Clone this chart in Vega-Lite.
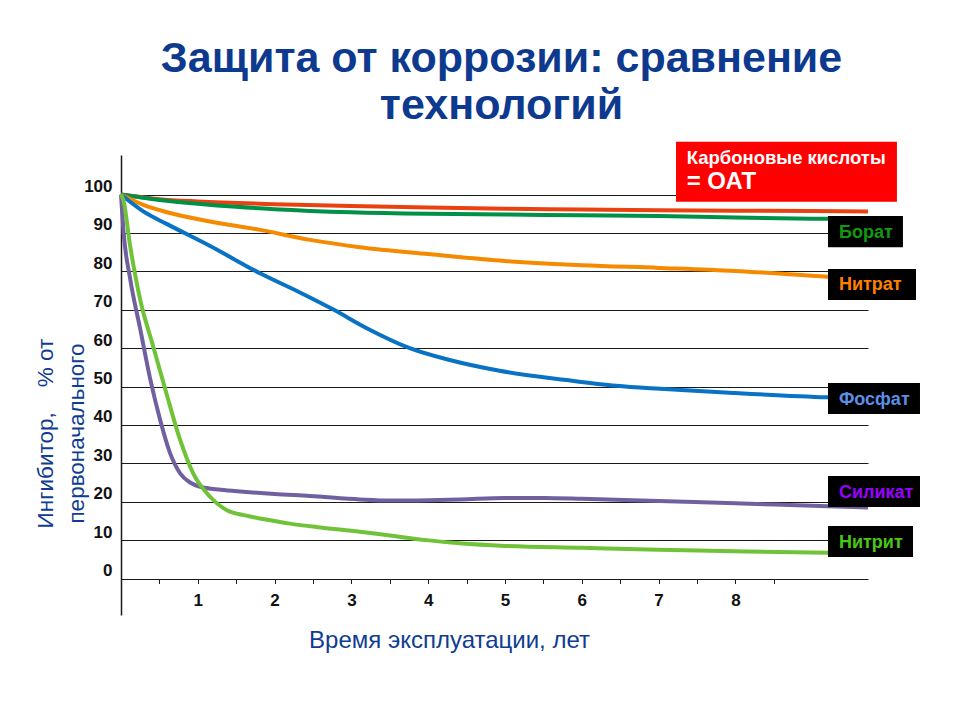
{
  "$schema": "https://vega.github.io/schema/vega-lite/v6.json",
  "autosize": {"type": "none"},
  "padding": {"left": 121, "top": 155, "right": 92, "bottom": 105},
  "width": 747,
  "height": 460,
  "background": "white",
  "config": {
    "view": {"stroke": null},
    "font": "Liberation Sans"
  },
  "title": {
    "text": ["Защита от коррозии: сравнение", "технологий"],
    "font": "Liberation Sans",
    "fontSize": 43,
    "fontWeight": "bold",
    "color": "#0d3a8e",
    "anchor": "middle",
    "frame": "group",
    "lineHeight": 47,
    "dx": 7,
    "offset": 14
  },
  "datasets": {
    "curves": [
      {"s": "Карбоновые кислоты", "t": 0, "v": 100},
      {"s": "Карбоновые кислоты", "t": 0.5, "v": 98.8},
      {"s": "Карбоновые кислоты", "t": 1, "v": 98.2},
      {"s": "Карбоновые кислоты", "t": 2, "v": 97.5},
      {"s": "Карбоновые кислоты", "t": 3, "v": 97.0},
      {"s": "Карбоновые кислоты", "t": 4, "v": 96.6},
      {"s": "Карбоновые кислоты", "t": 5, "v": 96.3},
      {"s": "Карбоновые кислоты", "t": 6, "v": 96.1},
      {"s": "Карбоновые кислоты", "t": 7, "v": 95.9},
      {"s": "Карбоновые кислоты", "t": 8, "v": 95.8},
      {"s": "Карбоновые кислоты", "t": 9, "v": 95.7},
      {"s": "Карбоновые кислоты", "t": 9.727, "v": 95.6},

      {"s": "Борат", "t": 0, "v": 100},
      {"s": "Борат", "t": 0.5, "v": 98.6},
      {"s": "Борат", "t": 1, "v": 97.6},
      {"s": "Борат", "t": 1.5, "v": 96.8},
      {"s": "Борат", "t": 2, "v": 96.2},
      {"s": "Борат", "t": 3, "v": 95.4},
      {"s": "Борат", "t": 4, "v": 95.0},
      {"s": "Борат", "t": 5, "v": 94.8},
      {"s": "Борат", "t": 6, "v": 94.6},
      {"s": "Борат", "t": 7, "v": 94.4},
      {"s": "Борат", "t": 8, "v": 94.0},
      {"s": "Борат", "t": 9, "v": 93.7},
      {"s": "Борат", "t": 9.727, "v": 93.6},

      {"s": "Нитрат", "t": 0, "v": 100},
      {"s": "Нитрат", "t": 0.29, "v": 97.3},
      {"s": "Нитрат", "t": 0.6, "v": 95.4},
      {"s": "Нитрат", "t": 1.16, "v": 93.0},
      {"s": "Нитрат", "t": 1.81, "v": 90.8},
      {"s": "Нитрат", "t": 2.46, "v": 88.2},
      {"s": "Нитрат", "t": 3.11, "v": 86.3},
      {"s": "Нитрат", "t": 4, "v": 84.5},
      {"s": "Нитрат", "t": 5, "v": 82.7},
      {"s": "Нитрат", "t": 6, "v": 81.6},
      {"s": "Нитрат", "t": 7, "v": 80.9},
      {"s": "Нитрат", "t": 8, "v": 80.1},
      {"s": "Нитрат", "t": 9.2, "v": 78.6},
      {"s": "Нитрат", "t": 9.727, "v": 78.0},

      {"s": "Фосфат", "t": 0, "v": 100},
      {"s": "Фосфат", "t": 0.29, "v": 95.6},
      {"s": "Фосфат", "t": 0.6, "v": 92.3},
      {"s": "Фосфат", "t": 1.16, "v": 86.6},
      {"s": "Фосфат", "t": 1.81, "v": 79.5},
      {"s": "Фосфат", "t": 2.33, "v": 74.5},
      {"s": "Фосфат", "t": 2.76, "v": 70.1},
      {"s": "Фосфат", "t": 3.2, "v": 65.2},
      {"s": "Фосфат", "t": 3.76, "v": 60.0},
      {"s": "Фосфат", "t": 4.28, "v": 56.9},
      {"s": "Фосфат", "t": 4.93, "v": 54.1},
      {"s": "Фосфат", "t": 5.8, "v": 51.7},
      {"s": "Фосфат", "t": 6.45, "v": 50.2},
      {"s": "Фосфат", "t": 7.02, "v": 49.4},
      {"s": "Фосфат", "t": 8, "v": 48.3},
      {"s": "Фосфат", "t": 9.2, "v": 47.2},
      {"s": "Фосфат", "t": 9.727, "v": 46.9},

      {"s": "Силикат", "t": 0, "v": 100},
      {"s": "Силикат", "t": 0.03, "v": 91},
      {"s": "Силикат", "t": 0.12, "v": 78},
      {"s": "Силикат", "t": 0.25, "v": 65},
      {"s": "Силикат", "t": 0.38, "v": 52},
      {"s": "Силикат", "t": 0.51, "v": 41.3},
      {"s": "Силикат", "t": 0.64, "v": 32.6},
      {"s": "Силикат", "t": 0.77, "v": 27.4},
      {"s": "Силикат", "t": 0.9, "v": 25.0},
      {"s": "Силикат", "t": 1.03, "v": 23.9},
      {"s": "Силикат", "t": 1.3, "v": 23.1},
      {"s": "Силикат", "t": 1.59, "v": 22.6},
      {"s": "Силикат", "t": 2, "v": 22.0},
      {"s": "Силикат", "t": 2.46, "v": 21.5},
      {"s": "Силикат", "t": 3.11, "v": 20.6},
      {"s": "Силикат", "t": 3.5, "v": 20.3},
      {"s": "Силикат", "t": 4, "v": 20.4},
      {"s": "Силикат", "t": 4.42, "v": 20.6},
      {"s": "Силикат", "t": 5, "v": 21.0},
      {"s": "Силикат", "t": 5.5, "v": 21.0},
      {"s": "Силикат", "t": 6, "v": 20.8},
      {"s": "Силикат", "t": 7, "v": 20.2},
      {"s": "Силикат", "t": 8, "v": 19.6},
      {"s": "Силикат", "t": 9.2, "v": 18.8},
      {"s": "Силикат", "t": 9.727, "v": 18.5},

      {"s": "Нитрит", "t": 0, "v": 100},
      {"s": "Нитрит", "t": 0.03, "v": 98.6},
      {"s": "Нитрит", "t": 0.12, "v": 86.5},
      {"s": "Нитрит", "t": 0.25, "v": 72.6},
      {"s": "Нитрит", "t": 0.42, "v": 60.4},
      {"s": "Нитрит", "t": 0.59, "v": 48.3},
      {"s": "Нитрит", "t": 0.77, "v": 36.1},
      {"s": "Нитрит", "t": 0.94, "v": 27.4},
      {"s": "Нитрит", "t": 1.16, "v": 21.3},
      {"s": "Нитрит", "t": 1.38, "v": 17.8},
      {"s": "Нитрит", "t": 1.6, "v": 16.5},
      {"s": "Нитрит", "t": 1.85, "v": 15.5},
      {"s": "Нитрит", "t": 2.2, "v": 14.3},
      {"s": "Нитрит", "t": 2.6, "v": 13.3},
      {"s": "Нитрит", "t": 3.11, "v": 12.2},
      {"s": "Нитрит", "t": 3.5, "v": 11.2},
      {"s": "Нитрит", "t": 3.98, "v": 10.0},
      {"s": "Нитрит", "t": 4.41, "v": 9.2},
      {"s": "Нитрит", "t": 5, "v": 8.5},
      {"s": "Нитрит", "t": 6, "v": 8.0},
      {"s": "Нитрит", "t": 7, "v": 7.5},
      {"s": "Нитрит", "t": 8, "v": 7.1},
      {"s": "Нитрит", "t": 9.2, "v": 6.7},
      {"s": "Нитрит", "t": 9.727, "v": 6.6}
    ],
    "labels": [
      {"s": "Борат", "label": "Борат", "x1": 9.206, "x2": 10.182, "y1": 94.41, "y2": 86.26, "ty": 89.9},
      {"s": "Нитрат", "label": "Нитрат", "x1": 9.206, "x2": 10.352, "y1": 80.61, "y2": 72.53, "ty": 76.4},
      {"s": "Фосфат", "label": "Фосфат", "x1": 9.206, "x2": 10.404, "y1": 50.92, "y2": 42.84, "ty": 46.5},
      {"s": "Силикат", "label": "Силикат", "x1": 9.206, "x2": 10.404, "y1": 26.7, "y2": 18.62, "ty": 22.35},
      {"s": "Нитрит", "label": "Нитрит", "x1": 9.206, "x2": 10.313, "y1": 13.67, "y2": 5.6, "ty": 9.17}
    ],
    "oat": [
      {"x1": 7.227, "x2": 10.104, "y1": 113.76, "y2": 98.13, "tx": 7.366, "line1": "Карбоновые кислоты", "ty1": 109.4, "line2": "= ОАТ", "ty2": 103.2}
    ]
  },
  "layer": [
    {
      "data": {"name": "curves"},
      "mark": {"type": "line", "interpolate": "monotone", "strokeWidth": 4, "clip": false},
      "encoding": {
        "x": {
          "field": "t", "type": "quantitative",
          "scale": {"domain": [0, 9.727], "nice": false, "zero": false},
          "axis": {
            "title": "Время эксплуатации, лет",
            "titleFont": "Liberation Sans",
            "titleFontSize": 24,
            "titleFontWeight": "normal",
            "titleColor": "#0f3d91",
            "titleX": 328,
            "titleY": 62,
            "titleAlign": "center",
            "titleBaseline": "middle",
            "offset": -36.5,
            "domain": false,
            "grid": false,
            "values": [0.5, 1, 1.5, 2, 2.5, 3, 3.5, 4, 4.5, 5, 5.5, 6, 6.5, 7, 7.5, 8, 8.5],
            "labelExpr": "datum.value % 1 === 0 ? format(datum.value, 'd') : ''",
            "ticks": true,
            "tickSize": 5,
            "tickColor": "#1a1a1a",
            "tickWidth": 1,
            "labelFont": "Liberation Sans",
            "labelFontSize": 17,
            "labelFontWeight": "bold",
            "labelColor": "#111111",
            "labelPadding": 9,
            "labelOverlap": false,
            "labelFlush": false
          }
        },
        "y": {
          "field": "v", "type": "quantitative",
          "scale": {"domain": [-9.5, 110.3], "nice": false, "zero": false},
          "axis": {
            "title": ["Ингибитор,\u00a0\u00a0\u00a0\u00a0% от", "первоначального"],
            "titleFont": "Liberation Sans",
            "titleFontSize": 22.5,
            "titleFontWeight": "normal",
            "titleColor": "#0f3d91",
            "titleLineHeight": 31,
            "titleAngle": 270,
            "titleX": -76,
            "titleY": 278,
            "titleAlign": "center",
            "titleBaseline": "middle",
            "values": [0, 10, 20, 30, 40, 50, 60, 70, 80, 90, 100],
            "grid": true,
            "gridColor": "#1a1a1a",
            "gridWidth": 1,
            "gridOpacity": 1,
            "domain": true,
            "domainColor": "#1a1a1a",
            "domainWidth": 1.5,
            "ticks": false,
            "tickSize": 0,
            "labelFont": "Liberation Sans",
            "labelFontSize": 17,
            "labelFontWeight": "bold",
            "labelColor": "#111111",
            "labelPadding": 9,
            "labelOffset": -8,
            "labelOverlap": false,
            "labelFlush": false
          }
        },
        "stroke": {
          "field": "s", "type": "nominal",
          "scale": {
            "domain": ["Карбоновые кислоты", "Борат", "Нитрат", "Фосфат", "Силикат", "Нитрит"],
            "range": ["#e94210", "#009048", "#f58a00", "#0872c4", "#7060a0", "#70c238"]
          },
          "legend": null
        }
      }
    },
    {
      "data": {"name": "labels"},
      "mark": {"type": "rect", "color": "#000000"},
      "encoding": {
        "x": {"field": "x1", "type": "quantitative"},
        "x2": {"field": "x2"},
        "y": {"field": "y1", "type": "quantitative"},
        "y2": {"field": "y2"}
      }
    },
    {
      "data": {"name": "labels"},
      "mark": {"type": "text", "font": "Liberation Sans", "fontSize": 18, "fontWeight": "bold", "align": "left", "baseline": "middle", "dx": 11},
      "encoding": {
        "x": {"field": "x1", "type": "quantitative"},
        "y": {"field": "ty", "type": "quantitative"},
        "text": {"field": "label"},
        "color": {
          "field": "s", "type": "nominal",
          "scale": {
            "domain": ["Борат", "Нитрат", "Фосфат", "Силикат", "Нитрит"],
            "range": ["#109a10", "#ff8000", "#5b8ee6", "#9a00ff", "#48c814"]
          },
          "legend": null
        }
      }
    },
    {
      "data": {"name": "oat"},
      "mark": {"type": "rect", "color": "#ff0000"},
      "encoding": {
        "x": {"field": "x1", "type": "quantitative"},
        "x2": {"field": "x2"},
        "y": {"field": "y1", "type": "quantitative"},
        "y2": {"field": "y2"}
      }
    },
    {
      "data": {"name": "oat"},
      "mark": {"type": "text", "font": "Liberation Sans", "fontSize": 18.5, "fontWeight": "bold", "align": "left", "baseline": "middle", "color": "#ffffff"},
      "encoding": {
        "x": {"field": "tx", "type": "quantitative"},
        "y": {"field": "ty1", "type": "quantitative"},
        "text": {"field": "line1"}
      }
    },
    {
      "data": {"name": "oat"},
      "mark": {"type": "text", "font": "Liberation Sans", "fontSize": 24, "fontWeight": "bold", "align": "left", "baseline": "middle", "color": "#ffffff"},
      "encoding": {
        "x": {"field": "tx", "type": "quantitative"},
        "y": {"field": "ty2", "type": "quantitative"},
        "text": {"field": "line2"}
      }
    }
  ]
}
